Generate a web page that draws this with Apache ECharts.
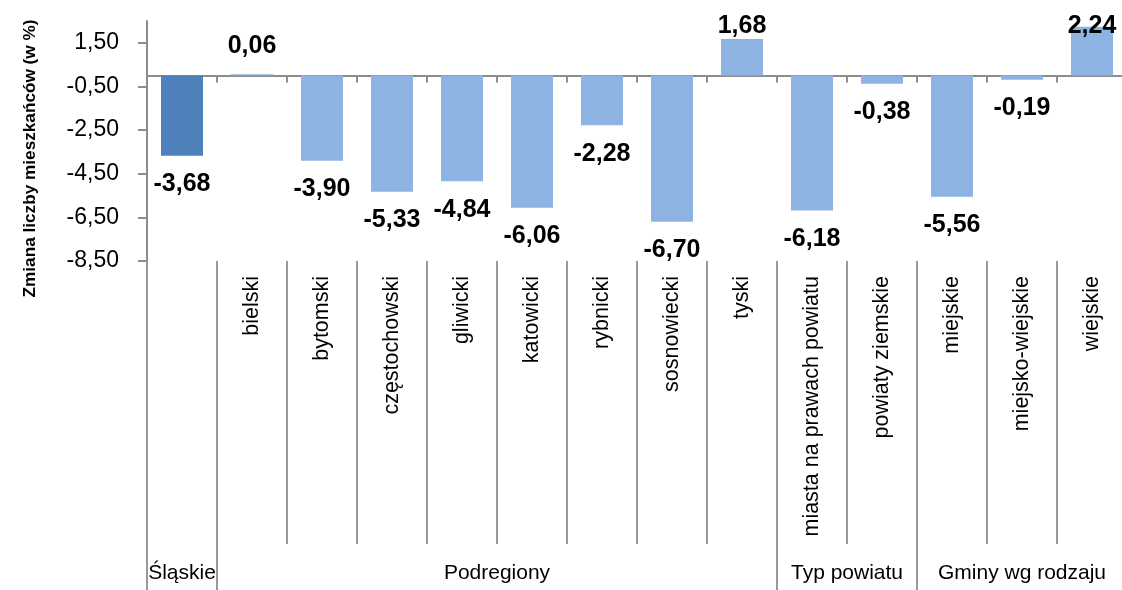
<!DOCTYPE html>
<html>
<head>
<meta charset="utf-8">
<script src="https://cdn.jsdelivr.net/npm/echarts@6/dist/echarts.min.js"></script>
<style>
html,body{margin:0;padding:0;background:#fff;}
#chart{width:1122px;height:590px;}
</style>
</head>
<body>
<div id="chart"></div>
<script>
const categories = ['Śląskie','bielski','bytomski','częstochowski','gliwicki','katowicki','rybnicki','sosnowiecki','tyski','miasta na prawach powiatu','powiaty ziemskie','miejskie','miejsko-wiejskie','wiejskie'];
const values = [-3.68, 0.06, -3.90, -5.33, -4.84, -6.06, -2.28, -6.70, 1.68, -6.18, -0.38, -5.56, -0.19, 2.24];
const yTicks = [-8.5, -6.5, -4.5, -2.5, -0.5, 1.5];
const groupNames = ['Śląskie', 'Podregiony', 'Typ powiatu', 'Gminy wg rodzaju'];
const groupSizes = [1, 8, 2, 3];
const yAxisTitle = 'Zmiana liczby mieszkańców (w %)';

const boundaries = [0];
const centers = [];
groupSizes.forEach(function (s) {
  const start = boundaries[boundaries.length - 1];
  centers.push(start + s / 2);
  boundaries.push(start + s);
});
const total = boundaries[boundaries.length - 1];

const fmt = function (v) { return v.toFixed(2).replace('.', ','); };
const SANS = '"Liberation Sans", Arial, sans-serif';
const AXIS_GRAY = '#8c8c8c';
const SEP_GRAY = '#9a9a9a';

const chart = echarts.init(document.getElementById('chart'), null, {renderer: 'canvas'});
chart.setOption({
  animation: false,
  backgroundColor: '#fff',
  grid: {left: 147, right: -5, top: 21, bottom: 329, containLabel: false, outerBoundsMode: 'none'},
  xAxis: [
    {
      type: 'category', data: categories, position: 'bottom',
      axisLine: {show: true, onZero: true, lineStyle: {color: AXIS_GRAY, width: 2}},
      axisTick: {show: true, interval: 0, length: 7, lineStyle: {color: AXIS_GRAY, width: 2}},
      axisLabel: {show: false}, splitLine: {show: false}
    },
    {
      type: 'category', data: categories, position: 'bottom',
      axisLine: {show: false, onZero: false},
      axisTick: {show: true, interval: 0, length: 283, lineStyle: {color: SEP_GRAY, width: 2}},
      axisLabel: {
        interval: 0, rotate: 90, margin: 15, fontSize: 21.5, fontFamily: SANS, color: '#000',
        formatter: function (v, i) { return i === 0 ? '' : v; }
      },
      splitLine: {show: false}
    },
    {
      type: 'value', min: 0, max: total, position: 'bottom', offset: 283,
      axisLine: {show: false, onZero: false},
      axisTick: {show: true, customValues: boundaries, length: 47, lineStyle: {color: SEP_GRAY, width: 2}},
      axisLabel: {
        customValues: centers, margin: 19, fontSize: 21, fontFamily: SANS, color: '#000',
        formatter: function (v) {
          let best = 0;
          centers.forEach(function (c, i) { if (Math.abs(c - v) < Math.abs(centers[best] - v)) best = i; });
          return groupNames[best];
        }
      },
      splitLine: {show: false}
    }
  ],
  yAxis: {
    type: 'value', min: -8.5, max: 2.5,
    axisLine: {show: true, onZero: false, lineStyle: {color: AXIS_GRAY, width: 2}},
    axisTick: {show: true, length: 9, customValues: yTicks, lineStyle: {color: AXIS_GRAY, width: 2}},
    axisLabel: {customValues: yTicks, formatter: fmt, fontSize: 23, margin: 28, fontFamily: SANS, color: '#000'},
    splitLine: {show: false},
    name: yAxisTitle, nameLocation: 'middle', nameGap: 108,
    nameTextStyle: {fontFamily: SANS, fontWeight: 'bold', fontSize: 17.2, color: '#000', padding: [0, 35, 0, 0]}
  },
  series: [{
    type: 'bar', xAxisIndex: 0, yAxisIndex: 0,
    barCategoryGap: '40%',
    data: values.map(function (v, i) {
      return {
        value: v,
        itemStyle: {color: i === 0 ? '#4F81BD' : '#8DB3E2'},
        label: {position: v < 0 ? 'bottom' : 'top'}
      };
    }),
    label: {
      show: true, distance: 16, fontFamily: SANS, fontWeight: 'bold', fontSize: 25, color: '#000',
      formatter: function (p) { return fmt(p.value); }
    },
    labelLayout: function (params) {
      const r = params.labelRect;
      const cy = r.y + r.height / 2;
      if (cy < 26) {
        return {x: r.x + r.width / 2, y: 26, align: 'center', verticalAlign: 'middle'};
      }
      return {};
    }
  }]
});
</script>
</body>
</html>
